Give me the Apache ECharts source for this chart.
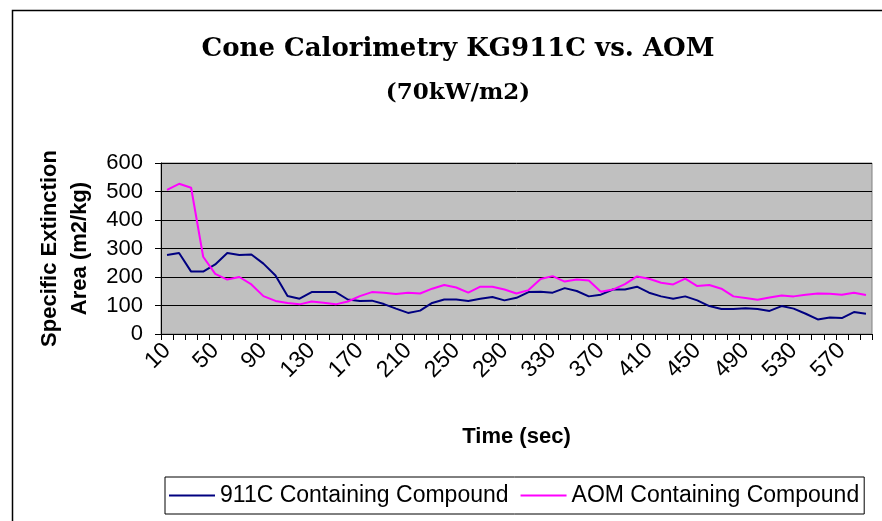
<!DOCTYPE html>
<html>
<head>
<meta charset="utf-8">
<script src="https://cdn.jsdelivr.net/npm/echarts@6/dist/echarts.min.js"></script>
<style>
  html, body { margin: 0; padding: 0; background: #fff; }
  #chart { width: 882px; height: 521px; }
</style>
</head>
<body>
<div id="chart"></div>
<script>
// time (sec), one sample every 10 s
var times = []
for (var t = 10; t <= 590; t += 10) times.push(String(t))

// Specific Extinction Area (m2/kg)
var kg911c = [
  277, 284, 219, 219, 244, 284, 277, 279, 247, 205,
  133, 124, 147, 147, 147, 121, 116, 117, 105, 89,
  74, 82, 109, 121, 121, 116, 124, 130, 118, 127,
  147, 148, 145, 161, 151, 132, 138, 156, 156, 166,
  145, 132, 124, 132, 118, 98, 88, 88, 90, 88,
  81, 98, 89, 71, 51, 58, 56, 77, 71
]
var aom = [
  506, 527, 513, 271, 211, 191, 200, 174, 133, 116,
  109, 104, 114, 110, 104, 114, 133, 147, 145, 140,
  145, 142, 159, 172, 163, 145, 166, 166, 156, 142,
  154, 193, 203, 184, 191, 188, 148, 156, 175, 202,
  194, 180, 174, 194, 168, 172, 159, 132, 126, 120,
  128, 135, 132, 138, 142, 141, 138, 145, 137
]

var seriesNames = ['911C Containing Compound', 'AOM Containing Compound']
var seriesColors = ['#000080', '#FF00FF']

var chart = echarts.init(document.getElementById('chart'))

chart.setOption({
  animation: false,
  backgroundColor: '#fff',
  textStyle: { fontFamily: 'Liberation Sans, Arial, sans-serif', color: '#000' },
  // 外框
  graphic: [{
    type: 'rect',
    shape: { x: 12.5, y: 10.5, width: 1000, height: 1000 },
    style: { fill: 'none', stroke: '#000', lineWidth: 1.5 },
    silent: true
  }],
  title: [
    {
      text: 'Cone Calorimetry KG911C vs. AOM',
      left: 453,
      top: 31,
      textAlign: 'center',
      textStyle: { fontFamily: 'DejaVu Serif', fontWeight: 'bold', fontSize: 26, color: '#000' }
    },
    {
      text: '(70kW/m2)',
      left: 453,
      top: 77,
      textAlign: 'center',
      textStyle: { fontFamily: 'DejaVu Serif', fontWeight: 'bold', fontSize: 23, color: '#000' }
    }
  ],
  grid: {
    left: 161,
    right: 10,
    top: 163,
    bottom: 187,
    show: true,
    backgroundColor: '#C0C0C0',
    borderColor: '#808080',
    borderWidth: 1
  },
  legend: {
    data: seriesNames,
    left: 165,
    top: 477,
    padding: [7, 5, 7, 4],
    itemGap: 12,
    itemWidth: 46,
    itemHeight: 2,
    icon: 'rect',
    borderColor: '#000',
    borderWidth: 1,
    backgroundColor: '#fff',
    textStyle: { fontSize: 23, color: '#000', fontFamily: 'Liberation Sans, Arial, sans-serif' }
  },
  xAxis: {
    type: 'category',
    data: times,
    boundaryGap: true,
    name: 'Time (sec)',
    nameLocation: 'middle',
    nameGap: 92,
    nameTextStyle: { fontSize: 22, fontWeight: 'bold', color: '#000' },
    axisLine: { lineStyle: { color: '#000', width: 1 } },
    axisTick: { show: true, interval: 0, length: 6, lineStyle: { color: '#000' } },
    axisLabel: { interval: 3, rotate: 45, fontSize: 23, color: '#000', margin: 13 },
    splitLine: { show: false }
  },
  yAxis: {
    type: 'value',
    min: 0,
    max: 600,
    interval: 100,
    name: 'Specific Extinction\nArea (m2/kg)',
    nameLocation: 'middle',
    nameGap: 62,
    nameTextStyle: { fontSize: 22, fontWeight: 'bold', color: '#000', lineHeight: 30 },
    axisLine: { show: true, lineStyle: { color: '#000', width: 1 } },
    axisTick: { show: true, length: 6, lineStyle: { color: '#000' } },
    axisLabel: { fontSize: 22, color: '#000', margin: 18 },
    splitLine: { show: true, lineStyle: { color: '#000', width: 1 } }
  },
  series: [
    {
      name: seriesNames[0],
      type: 'line',
      data: kg911c,
      symbol: 'none',
      color: seriesColors[0],
      lineStyle: { color: seriesColors[0], width: 2 }
    },
    {
      name: seriesNames[1],
      type: 'line',
      data: aom,
      symbol: 'none',
      color: seriesColors[1],
      lineStyle: { color: seriesColors[1], width: 2 }
    }
  ]
})
</script>
</body>
</html>
